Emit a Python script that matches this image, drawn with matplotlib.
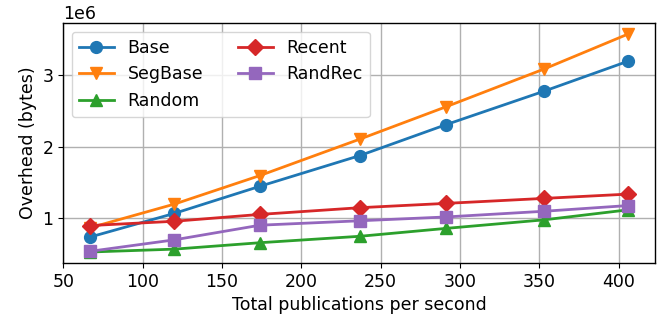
import matplotlib
matplotlib.use('Agg')
import matplotlib.pyplot as plt

plt.rcParams['font.size'] = 12.5

pubs_per_sec = [67, 120, 174, 237, 291, 353, 406]

base = [0.74e6, 1.07e6, 1.45e6, 1.88e6, 2.31e6, 2.78e6, 3.20e6]
seg_base = [0.87e6, 1.20e6, 1.60e6, 2.11e6, 2.56e6, 3.09e6, 3.58e6]
random_ = [0.53e6, 0.57e6, 0.66e6, 0.75e6, 0.86e6, 0.98e6, 1.12e6]
recent = [0.90e6, 0.96e6, 1.056e6, 1.15e6, 1.21e6, 1.28e6, 1.34e6]
rand_rec = [0.54e6, 0.70e6, 0.905e6, 0.967e6, 1.02e6, 1.10e6, 1.18e6]

fig = plt.figure(figsize=(6.59, 3.21), dpi=100)
ax = fig.add_axes([0.096, 0.181, 0.898, 0.747])

series = [
    ('Base', base, 'o'),
    ('SegBase', seg_base, 'v'),
    ('Random', random_, '^'),
    ('Recent', recent, 'D'),
    ('RandRec', rand_rec, 's'),
]
for label, vals, marker in series:
    ax.plot(pubs_per_sec, vals, marker=marker, markersize=8.5, linewidth=2, label=label)

ax.set_xlabel('Total publications per second')
ax.set_ylabel('Overhead (bytes)')
ax.set_xticks([50, 100, 150, 200, 250, 300, 350, 400])
ax.set_yticks([1e6, 2e6, 3e6])
for sp in ax.spines.values():
    sp.set_linewidth(1.0)
ax.grid(True, color='#b0b0b0', linewidth=1)
ax.legend(loc='upper left', ncol=2)

fig.savefig('out.png')
